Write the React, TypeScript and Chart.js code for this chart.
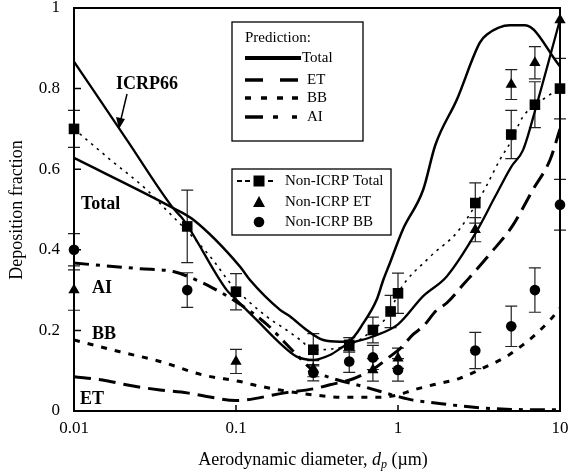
import React, { useEffect, useRef } from "react";
import { Chart, registerables } from "chart.js";
Chart.register(...registerables);

const xTickValues = [0.01, 0.1, 1, 10];
const xTickLabels = ["0.01", "0.1", "1", "10"];
const yTickValues = [0, 0.2, 0.4, 0.6, 0.8, 1];
const yTickLabels = ["0", "0.2", "0.4", "0.6", "0.8", "1"];

// Prediction: Total
const totalX = [0.01, 0.0408, 0.0543, 0.106, 0.122, 0.187, 0.215, 0.273, 0.346, 0.438, 0.506, 0.611, 0.738, 0.811, 0.893, 1.07, 1.43, 1.7, 2.31, 3.2, 3.54, 4.91, 6.08, 10];
const totalY = [0.628, 0.504, 0.475, 0.358, 0.325, 0.251, 0.235, 0.201, 0.176, 0.172, 0.176, 0.218, 0.276, 0.325, 0.368, 0.45, 0.549, 0.66, 0.773, 0.914, 0.934, 0.957, 0.957, 0.855];

// ICRP66 total
const icrpX = [0.01, 0.0212, 0.0408, 0.0473, 0.0877, 0.096, 0.134, 0.187, 0.237, 0.3, 0.38, 0.48, 0.7, 1.0, 1.43, 2.0, 3.0, 4.0, 5.0, 5.92, 7.18, 10];
const icrpY = [0.867, 0.673, 0.504, 0.475, 0.3, 0.284, 0.226, 0.168, 0.135, 0.127, 0.139, 0.164, 0.185, 0.215, 0.285, 0.334, 0.44, 0.534, 0.606, 0.648, 0.76, 0.971];

// Prediction: ET
const etX = [0.01, 0.015, 0.021, 0.034, 0.05, 0.066, 0.1, 0.2, 0.3, 0.38, 0.53, 0.74, 0.89, 1.03, 1.24, 1.43, 1.73, 2.0, 2.52, 3.7, 5.1, 6.8, 8.7, 10];
const etY = [0.085, 0.077, 0.065, 0.052, 0.045, 0.036, 0.026, 0.045, 0.055, 0.065, 0.08, 0.11, 0.135, 0.155, 0.19, 0.21, 0.25, 0.268, 0.313, 0.39, 0.46, 0.549, 0.624, 0.7];

// Prediction: BB
const bbX = [0.01, 0.0192, 0.034, 0.063, 0.106, 0.128, 0.187, 0.3, 0.46, 0.74, 1.0, 1.24, 1.65, 2.4, 3.5, 4.66, 5.9, 7.2, 8.7, 10];
const bbY = [0.176, 0.147, 0.123, 0.089, 0.073, 0.065, 0.052, 0.04, 0.034, 0.034, 0.04, 0.052, 0.065, 0.081, 0.11, 0.135, 0.164, 0.193, 0.226, 0.255];

// Prediction: AI
const aiX = [0.01, 0.0256, 0.041, 0.057, 0.072, 0.096, 0.155, 0.2, 0.25, 0.3, 0.38, 0.62, 1.0, 1.24, 1.7, 2.5, 3.5, 5, 7, 10];
const aiY = [0.367, 0.353, 0.346, 0.325, 0.305, 0.276, 0.215, 0.17, 0.13, 0.1, 0.083, 0.06, 0.036, 0.027, 0.02, 0.012, 0.007, 0.004, 0.003, 0.003];

// Non-ICRP Total (dotted line)
const nonTotX = [0.01, 0.0167, 0.0281, 0.0355, 0.054, 0.072, 0.092, 0.155, 0.205, 0.25, 0.3, 0.5, 0.7, 0.9, 1.0, 1.58, 2.3, 3.0, 3.5, 4.26, 5.0, 5.9, 8.3, 10];
const nonTotY = [0.7, 0.624, 0.549, 0.507, 0.432, 0.375, 0.318, 0.234, 0.201, 0.176, 0.152, 0.164, 0.201, 0.247, 0.292, 0.383, 0.442, 0.51, 0.557, 0.624, 0.67, 0.73, 0.78, 0.8];

// Measured points (Non-ICRP)
const sqX = [0.01, 0.05, 0.1, 0.3, 0.5, 0.7, 0.9, 1, 3, 5, 7, 10];
const sqY = [0.7, 0.458, 0.296, 0.152, 0.164, 0.201, 0.247, 0.292, 0.516, 0.686, 0.76, 0.8];
const sqErr = [0.046, 0.09, 0.045, 0.04, 0.018, 0.032, 0.04, 0.05, 0.05, 0.06, 0.057, 0.075];

const trX = [0.01, 0.1, 0.3, 0.7, 1, 3, 5, 7, 10];
const trY = [0.3, 0.123, 0.105, 0.102, 0.131, 0.45, 0.81, 0.864, 0.97];
const trErr = [0.05, 0.03, 0.02, 0.028, 0.025, 0.03, 0.037, 0.04, 0];

const ciX = [0.01, 0.05, 0.3, 0.5, 0.7, 1, 3, 5, 7, 10];
const ciY = [0.4, 0.3, 0.095, 0.123, 0.133, 0.102, 0.15, 0.21, 0.3, 0.512];
const ciErr = [0.04, 0.043, 0.02, 0.027, 0.03, 0.028, 0.045, 0.05, 0.055, 0.063];

const pts = (xs: number[], ys: number[]) => xs.map((x, i) => ({ x, y: ys[i] }));

export default function App() {
  const ref = useRef<HTMLCanvasElement>(null);
  useEffect(() => {
    const canvas = ref.current!;
    const serif = '"Liberation Serif", "Times New Roman", serif';
    const errGroups = [
      { xs: sqX, ys: sqY, es: sqErr },
      { xs: trX, ys: trY, es: trErr },
      { xs: ciX, ys: ciY, es: ciErr },
    ];

    const overlay = {
      id: "overlay",
      beforeDatasetsDraw(chart: any) {
        const ctx = chart.ctx;
        const xs = chart.scales.x;
        const ys = chart.scales.y;
        ctx.save();
        ctx.strokeStyle = "#222";
        ctx.lineWidth = 1.2;
        errGroups.forEach((g) => {
          g.xs.forEach((xv, i) => {
            const e = g.es[i];
            if (!e) return;
            const px = xs.getPixelForValue(xv);
            const p1 = ys.getPixelForValue(g.ys[i] + e);
            const p2 = ys.getPixelForValue(g.ys[i] - e);
            ctx.beginPath();
            ctx.moveTo(px, p1);
            ctx.lineTo(px, p2);
            ctx.moveTo(px - 6, p1);
            ctx.lineTo(px + 6, p1);
            ctx.moveTo(px - 6, p2);
            ctx.lineTo(px + 6, p2);
            ctx.stroke();
          });
        });
        ctx.restore();
      },
      afterDraw(chart: any) {
        const ctx = chart.ctx;
        const a = chart.chartArea;
        const xs = chart.scales.x;
        const ys = chart.scales.y;
        ctx.save();
        // frame
        ctx.strokeStyle = "#000";
        ctx.lineWidth = 2;
        ctx.strokeRect(a.left, a.top, a.right - a.left, a.bottom - a.top);
        // inward ticks
        ctx.lineWidth = 1.5;
        ctx.beginPath();
        xTickValues.forEach((v) => {
          const px = xs.getPixelForValue(v);
          ctx.moveTo(px, a.bottom);
          ctx.lineTo(px, a.bottom - 6);
        });
        yTickValues.forEach((v) => {
          const py = ys.getPixelForValue(v);
          ctx.moveTo(a.left, py);
          ctx.lineTo(a.left + 7, py);
        });
        ctx.stroke();

        // curve labels
        ctx.fillStyle = "#000";
        ctx.font = `bold 18px ${serif}`;
        ctx.textAlign = "left";
        ctx.textBaseline = "alphabetic";
        ctx.fillText("ICRP66", 116, 89);
        ctx.fillText("Total", 81, 209);
        ctx.fillText("AI", 92, 293);
        ctx.fillText("BB", 92, 339);
        ctx.fillText("ET", 80, 404);

        // arrow
        ctx.lineWidth = 1.5;
        ctx.beginPath();
        ctx.moveTo(127, 94);
        ctx.lineTo(121, 119);
        ctx.stroke();
        ctx.beginPath();
        ctx.moveTo(119, 129);
        ctx.lineTo(116, 117);
        ctx.lineTo(125, 119);
        ctx.closePath();
        ctx.fill();

        // legend 1
        ctx.fillStyle = "#fff";
        ctx.fillRect(232, 22, 131, 119);
        ctx.strokeStyle = "#000";
        ctx.lineWidth = 1.3;
        ctx.strokeRect(232, 22, 131, 119);
        ctx.fillStyle = "#000";
        ctx.font = `15px ${serif}`;
        ctx.textBaseline = "middle";
        ctx.fillText("Prediction:", 245, 38);
        const seg = (x1: number, x2: number, y: number, w: number) => {
          ctx.lineWidth = w;
          ctx.beginPath();
          ctx.moveTo(x1, y);
          ctx.lineTo(x2, y);
          ctx.stroke();
        };
        seg(245, 301, 58, 4);
        ctx.fillText("Total", 302, 58);
        seg(245, 263, 80, 3.5);
        seg(280, 298, 80, 3.5);
        ctx.fillText("ET", 307, 80);
        [245, 261, 277, 292].forEach((x) => seg(x, x + 6, 98, 3.5));
        ctx.fillText("BB", 307, 98);
        seg(245, 263, 117, 3.5);
        seg(273, 278, 117, 3.5);
        seg(292, 297, 117, 3.5);
        ctx.fillText("AI", 307, 117);

        // legend 2
        ctx.fillStyle = "#fff";
        ctx.fillRect(232, 169, 159, 66);
        ctx.strokeStyle = "#000";
        ctx.lineWidth = 1.3;
        ctx.strokeRect(232, 169, 159, 66);
        ctx.fillStyle = "#000";
        seg(237, 242, 181, 2);
        seg(245, 250, 181, 2);
        seg(268, 273, 181, 2);
        ctx.fillRect(253.5, 175.5, 11, 11);
        ctx.beginPath();
        ctx.moveTo(259, 196);
        ctx.lineTo(265, 207);
        ctx.lineTo(253, 207);
        ctx.closePath();
        ctx.fill();
        ctx.beginPath();
        ctx.arc(259, 222, 5.3, 0, Math.PI * 2);
        ctx.fill();
        ctx.fillText("Non-ICRP Total", 285, 181);
        ctx.fillText("Non-ICRP ET", 285, 202);
        ctx.fillText("Non-ICRP BB", 285, 222);

        // x title
        const base = 465;
        ctx.textBaseline = "alphabetic";
        const t1 = "Aerodynamic diameter, ";
        const t3 = " (\u00b5m)";
        ctx.font = `18px ${serif}`;
        const w1 = ctx.measureText(t1).width;
        const w3 = ctx.measureText(t3).width;
        ctx.font = `italic 18px ${serif}`;
        const w2 = ctx.measureText("d").width;
        ctx.font = `italic 12px ${serif}`;
        const wp = ctx.measureText("p").width;
        const total = w1 + w2 + wp + w3;
        let x0 = 313 - total / 2;
        ctx.font = `18px ${serif}`;
        ctx.fillText(t1, x0, base);
        x0 += w1;
        ctx.font = `italic 18px ${serif}`;
        ctx.fillText("d", x0, base);
        x0 += w2;
        ctx.font = `italic 12px ${serif}`;
        ctx.fillText("p", x0, base + 3);
        x0 += wp;
        ctx.font = `18px ${serif}`;
        ctx.fillText(t3, x0, base);

        // y title
        ctx.save();
        ctx.translate(17, 210);
        ctx.rotate(-Math.PI / 2);
        ctx.textAlign = "center";
        ctx.textBaseline = "middle";
        ctx.font = `18px ${serif}`;
        ctx.fillText("Deposition fraction", 0, 0);
        ctx.restore();

        ctx.restore();
      },
    };

    const lineDs = (data: any, width: number, dash: number[]) => ({
      type: "scatter",
      data,
      showLine: true,
      pointRadius: 0,
      borderColor: "#000",
      backgroundColor: "#000",
      borderWidth: width,
      borderDash: dash,
      borderCapStyle: "butt",
      fill: false,
      cubicInterpolationMode: "monotone",
      order: 2,
    });

    const chart = new Chart(canvas, {
      type: "scatter",
      data: {
        datasets: [
          {
            data: pts(sqX, sqY),
            pointStyle: "rect",
            pointRadius: 7.5,
            backgroundColor: "#000",
            borderColor: "#000",
            borderWidth: 0,
            clip: false,
            order: 0,
          } as any,
          {
            data: pts(trX, trY),
            pointStyle: "triangle",
            pointRadius: 6.5,
            backgroundColor: "#000",
            borderColor: "#000",
            borderWidth: 0,
            clip: false,
            order: 0,
          },
          {
            data: pts(ciX, ciY),
            pointStyle: "circle",
            pointRadius: 5.3,
            backgroundColor: "#000",
            borderColor: "#000",
            borderWidth: 0,
            clip: false,
            order: 0,
          },
          lineDs(pts(nonTotX, nonTotY), 1.6, [2.5, 5]),
          lineDs(pts(totalX, totalY), 2.5, []),
          lineDs(pts(icrpX, icrpY), 2.3, []),
          lineDs(pts(etX, etY), 3, [17, 8]),
          lineDs(pts(bbX, bbY), 3, [6, 8]),
          lineDs(pts(aiX, aiY), 3, [15, 7, 4, 7]),
        ] as any,
      },
      options: {
        responsive: false,
        animation: false,
        events: [],
        layout: { padding: { left: 0, right: 10, top: 8, bottom: 0 } },
        plugins: { legend: { display: false }, tooltip: { enabled: false } },
        scales: {
          x: {
            type: "logarithmic",
            min: 0.01,
            max: 10,
            grid: { display: false, drawTicks: false },
            border: { display: false },
            afterBuildTicks: (s: any) => {
              s.ticks = xTickValues.map((v) => ({ value: v }));
            },
            afterFit: (s: any) => {
              s.height = 62;
              s.paddingLeft = 0;
              s.paddingRight = 0;
            },
            ticks: {
              autoSkip: false,
              maxRotation: 0,
              padding: 7,
              color: "#000",
              font: { family: serif, size: 17 },
              callback: (_v: any, i: number) => xTickLabels[i],
            },
          },
          y: {
            type: "linear",
            min: 0,
            max: 1,
            grid: { display: false, drawTicks: false },
            border: { display: false },
            afterBuildTicks: (s: any) => {
              s.ticks = yTickValues.map((v) => ({ value: v }));
            },
            afterFit: (s: any) => {
              s.width = 74;
              s.paddingTop = 0;
              s.paddingBottom = 0;
            },
            ticks: {
              padding: 14,
              color: "#000",
              font: { family: serif, size: 17 },
              callback: (_v: any, i: number) => yTickLabels[i],
            },
          },
        },
      } as any,
      plugins: [overlay],
    });
    return () => chart.destroy();
  }, []);
  return (
    <div style={{ position: "absolute", left: 0, top: 0, width: 570, height: 473 }}>
      <canvas ref={ref} width={570} height={473} style={{ width: 570, height: 473 }} />
    </div>
  );
}
